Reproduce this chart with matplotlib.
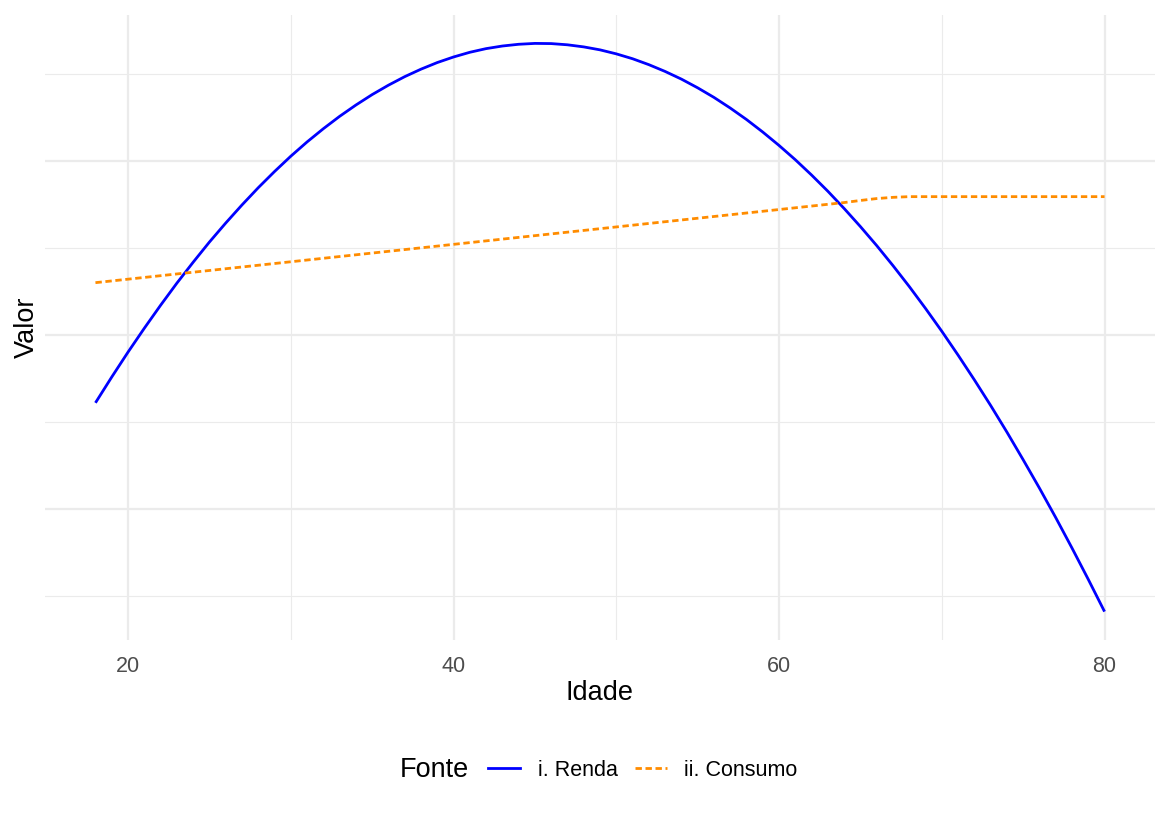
import matplotlib.pyplot as plt
from matplotlib.ticker import MultipleLocator, NullFormatter
from matplotlib.lines import Line2D

plt.rcParams['font.family'] = ['Liberation Sans', 'DejaVu Sans']

# data (y has no labels, units = major grid step)
idade_renda = list(range(18, 81))
renda = [-0.390, -0.242, -0.099, 0.038, 0.170, 0.297, 0.417, 0.533, 0.642,
         0.746, 0.845, 0.938, 1.026, 1.108, 1.184, 1.255, 1.320, 1.380, 1.434,
         1.483, 1.526, 1.564, 1.596, 1.623, 1.644, 1.659, 1.669, 1.674, 1.673,
         1.666, 1.654, 1.637, 1.614, 1.586, 1.552, 1.513, 1.469, 1.419, 1.364,
         1.303, 1.237, 1.165, 1.088, 1.006, 0.918, 0.825, 0.726, 0.622, 0.513,
         0.398, 0.278, 0.152, 0.021, -0.116, -0.258, -0.405, -0.558, -0.717,
         -0.880, -1.049, -1.224, -1.404, -1.589]

idade_consumo = [18, 20, 25, 30, 35, 40, 45, 50, 55, 60, 62, 63, 64, 65, 66,
                 67, 68, 70, 75, 80]
consumo = [0.30, 0.32, 0.37, 0.42, 0.47, 0.52, 0.57, 0.62, 0.67, 0.72, 0.74,
           0.75, 0.76, 0.772, 0.783, 0.79, 0.794, 0.794, 0.794, 0.794]

series_labels = ['i. Renda', 'ii. Consumo']
series_colors = ['#0000FF', '#FF8C00']

fig = plt.figure(figsize=(11.69, 8.17), dpi=100)
ax = fig.add_axes([45/1169, 1 - 640/817, 1110/1169, 625/817])

ax.plot(idade_renda, renda, color=series_colors[0], lw=2.0,
        solid_capstyle='butt')
ax.plot(idade_consumo, consumo, color=series_colors[1], lw=2.0,
        dashes=(2.3, 1.3), dash_capstyle='butt')

ax.margins(x=0.05, y=0.05)

# grid like theme_minimal
ax.xaxis.set_major_locator(MultipleLocator(20))
ax.xaxis.set_minor_locator(MultipleLocator(10))
ax.yaxis.set_major_locator(MultipleLocator(1))
ax.yaxis.set_minor_locator(MultipleLocator(0.5))
ax.grid(which='major', color='#EBEBEB', lw=1.6)
ax.grid(which='minor', color='#EBEBEB', lw=0.8)
ax.set_axisbelow(True)
ax.tick_params(which='both', length=0)
ax.tick_params(axis='x', labelsize=15.5, labelcolor='#4D4D4D', pad=11.5)
ax.tick_params(axis='y', pad=0)
ax.yaxis.set_major_formatter(NullFormatter())
for s in ax.spines.values():
    s.set_visible(False)

ax.set_xlabel('Idade', fontsize=19.5, labelpad=2.5)
ax.set_ylabel('Valor', fontsize=19.5, labelpad=0)

# legend at the bottom, title to the left
fig.text(400/1169, 1 - 770/817, 'Fonte', fontsize=19.5, va='center', ha='left')
handles = [Line2D([], [], color=series_colors[0], lw=2.0),
           Line2D([], [], color=series_colors[1], lw=2.0, dashes=(2.3, 1.3))]
fig.legend(handles, series_labels, loc='center left',
           bbox_to_anchor=(473/1169, 1 - 770/817), ncol=2, frameon=False,
           fontsize=15.5, handlelength=1.5, handletextpad=0.8,
           columnspacing=0.8, borderpad=0.2)

fig.savefig('out.png', dpi=100)
